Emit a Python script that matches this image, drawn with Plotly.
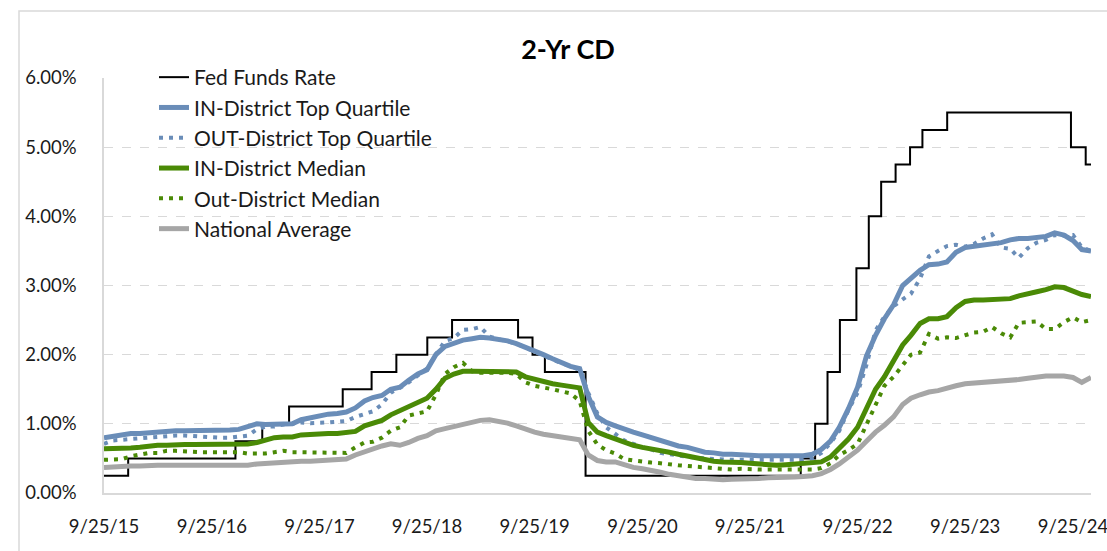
import pandas as pd
import plotly.graph_objects as go

# Monthly sample dates (25th of each month), 9/25/15 .. 11/25/24
dates = pd.date_range("2015-09-01", "2024-11-01", freq="MS") + pd.Timedelta(days=24)

in_top_quartile = [
    0.80, 0.82, 0.85, 0.86, 0.86, 0.87, 0.88, 0.90, 0.90, 0.90,
    0.90, 0.90, 0.90, 0.90, 0.91, 0.92, 0.96, 1.00, 0.99, 0.99,
    0.99, 1.00, 1.06, 1.09, 1.12, 1.14, 1.15, 1.17, 1.23, 1.33,
    1.38, 1.41, 1.50, 1.53, 1.63, 1.72, 1.78, 2.00, 2.12, 2.17,
    2.21, 2.23, 2.25, 2.24, 2.22, 2.20, 2.16, 2.11, 2.05, 2.00,
    1.94, 1.89, 1.83, 1.80, 1.40, 1.10, 1.02, 0.97, 0.92, 0.88,
    0.84, 0.80, 0.76, 0.72, 0.68, 0.66, 0.62, 0.59, 0.58, 0.56,
    0.56, 0.55, 0.55, 0.54, 0.54, 0.54, 0.54, 0.54, 0.54, 0.56,
    0.63, 0.75, 0.95, 1.22, 1.53, 1.98, 2.28, 2.52, 2.72, 3.00,
    3.10, 3.22, 3.30, 3.31, 3.34, 3.48, 3.55, 3.57, 3.59, 3.60,
    3.62, 3.66, 3.68, 3.68, 3.69, 3.71, 3.76, 3.73, 3.65, 3.52,
    3.50,
]
out_top_quartile = [
    0.71, 0.76, 0.77, 0.78, 0.79, 0.81, 0.82, 0.83, 0.83, 0.83,
    0.82, 0.81, 0.80, 0.80, 0.80, 0.82, 0.83, 0.92, 0.96, 0.96,
    0.99, 1.00, 1.02, 1.01, 1.01, 1.02, 1.03, 1.04, 1.10, 1.14,
    1.18, 1.28, 1.45, 1.52, 1.60, 1.70, 1.80, 2.00, 2.20, 2.24,
    2.36, 2.37, 2.40, 2.26, 2.22, 2.19, 2.16, 2.10, 2.04, 1.99,
    1.93, 1.88, 1.83, 1.78, 1.45, 1.15, 0.95, 0.85, 0.76, 0.71,
    0.66, 0.63, 0.58, 0.56, 0.54, 0.52, 0.51, 0.50, 0.49, 0.49,
    0.48, 0.48, 0.48, 0.47, 0.47, 0.47, 0.47, 0.47, 0.48, 0.50,
    0.58, 0.72, 0.90, 1.20, 1.45, 1.85, 2.35, 2.55, 2.70, 2.80,
    2.88, 3.10, 3.42, 3.50, 3.57, 3.59, 3.56, 3.60, 3.68, 3.74,
    3.55, 3.53, 3.40, 3.54, 3.62, 3.66, 3.73, 3.72, 3.73, 3.55,
    3.50,
]
in_median = [
    0.64, 0.64, 0.64, 0.65, 0.66, 0.68, 0.69, 0.69, 0.70, 0.70,
    0.70, 0.70, 0.70, 0.70, 0.70, 0.71, 0.71, 0.73, 0.76, 0.80,
    0.81, 0.81, 0.84, 0.85, 0.86, 0.86, 0.86, 0.88, 0.89, 0.97,
    1.00, 1.05, 1.13, 1.19, 1.25, 1.31, 1.37, 1.50, 1.66, 1.72,
    1.76, 1.76, 1.76, 1.76, 1.76, 1.76, 1.75, 1.68, 1.64, 1.61,
    1.58, 1.56, 1.54, 1.52, 1.02, 0.88, 0.83, 0.78, 0.73, 0.69,
    0.66, 0.64, 0.61, 0.59, 0.56, 0.53, 0.51, 0.49, 0.46, 0.45,
    0.45, 0.44, 0.43, 0.42, 0.41, 0.40, 0.41, 0.42, 0.42, 0.43,
    0.45, 0.52, 0.64, 0.78, 0.95, 1.21, 1.50, 1.68, 1.90, 2.14,
    2.28, 2.45, 2.52, 2.52, 2.55, 2.68, 2.77, 2.79, 2.79, 2.80,
    2.80, 2.81, 2.85, 2.89, 2.91, 2.94, 2.98, 2.97, 2.92, 2.87,
    2.84,
]
out_median = [
    0.48, 0.48, 0.49, 0.53, 0.56, 0.58, 0.58, 0.61, 0.61, 0.60,
    0.60, 0.59, 0.59, 0.59, 0.59, 0.59, 0.57, 0.57, 0.57, 0.59,
    0.61, 0.59, 0.59, 0.59, 0.59, 0.59, 0.59, 0.58, 0.66, 0.73,
    0.74, 0.80, 0.90, 0.95, 1.12, 1.15, 1.18, 1.42, 1.72, 1.82,
    1.88, 1.76, 1.74, 1.74, 1.74, 1.74, 1.72, 1.60, 1.55, 1.53,
    1.50, 1.47, 1.44, 1.33, 0.90, 0.70, 0.62, 0.57, 0.49, 0.47,
    0.45, 0.44, 0.43, 0.41, 0.40, 0.39, 0.38, 0.37, 0.37, 0.36,
    0.34, 0.35, 0.34, 0.34, 0.34, 0.34, 0.34, 0.35, 0.35, 0.34,
    0.36, 0.43, 0.55, 0.62, 0.71, 0.98, 1.25, 1.55, 1.68, 1.85,
    2.00, 2.03, 2.30, 2.23, 2.25, 2.24, 2.28, 2.32, 2.33, 2.40,
    2.31, 2.25, 2.46, 2.47, 2.48, 2.37, 2.37, 2.47, 2.54, 2.47,
    2.50,
]
national_average = [
    0.37, 0.38, 0.38, 0.39, 0.39, 0.40, 0.40, 0.40, 0.40, 0.40,
    0.40, 0.40, 0.40, 0.39, 0.39, 0.39, 0.40, 0.42, 0.43, 0.44,
    0.45, 0.45, 0.46, 0.46, 0.47, 0.47, 0.48, 0.49, 0.55, 0.60,
    0.64, 0.68, 0.71, 0.69, 0.73, 0.79, 0.83, 0.90, 0.93, 0.96,
    0.99, 1.02, 1.05, 1.06, 1.04, 1.01, 0.97, 0.92, 0.88, 0.85,
    0.83, 0.80, 0.79, 0.77, 0.55, 0.47, 0.45, 0.45, 0.41, 0.37,
    0.35, 0.33, 0.30, 0.27, 0.25, 0.23, 0.21, 0.21, 0.20, 0.19,
    0.20, 0.20, 0.20, 0.21, 0.22, 0.22, 0.23, 0.23, 0.24, 0.25,
    0.28, 0.34, 0.42, 0.51, 0.62, 0.75, 0.88, 0.98, 1.10, 1.28,
    1.37, 1.42, 1.46, 1.48, 1.52, 1.55, 1.58, 1.59, 1.59, 1.60,
    1.62, 1.63, 1.64, 1.66, 1.68, 1.69, 1.69, 1.69, 1.67, 1.60,
    1.67,
]

# Fed Funds Rate (upper bound) change dates
fed_dates = [
    "2015-09-25", "2015-12-16", "2016-12-14", "2017-03-15", "2017-06-14",
    "2017-12-13", "2018-03-21", "2018-06-13", "2018-09-26", "2018-12-19",
    "2019-07-31", "2019-09-18", "2019-10-30", "2020-03-16", "2022-03-16",
    "2022-05-04", "2022-06-15", "2022-07-27", "2022-09-21", "2022-11-02",
    "2022-12-14", "2023-02-01", "2023-03-22", "2023-05-03", "2023-07-26",
    "2024-09-18", "2024-11-07", "2024-11-25",
]
fed_rate = [
    0.25, 0.50, 0.75, 1.00, 1.25,
    1.50, 1.75, 2.00, 2.25, 2.50,
    2.25, 2.00, 1.75, 0.25, 0.50,
    1.00, 1.75, 2.50, 3.25, 4.00,
    4.50, 4.75, 5.00, 5.25, 5.50,
    5.00, 4.75, 4.75,
]

tick_dates = ["2015-09-25", "2016-09-25", "2017-09-25", "2018-09-25", "2019-09-25",
              "2020-09-25", "2021-09-25", "2022-09-25", "2023-09-25", "2024-09-25"]
tick_labels = ["9/25/15", "9/25/16", "9/25/17", "9/25/18", "9/25/19",
               "9/25/20", "9/25/21", "9/25/22", "9/25/23", "9/25/24"]
y_ticks = [0, 1, 2, 3, 4, 5, 6]
y_tick_labels = ["0.00%", "1.00%", "2.00%", "3.00%", "4.00%", "5.00%", "6.00%"]

BLUE = "#6A8DB8"
GREEN = "#4A8A06"
GRAY = "#A6A6A6"
FONT = "Lato"

fig = go.Figure()
fig.add_trace(go.Scatter(x=fed_dates, y=fed_rate, name="Fed Funds Rate", mode="lines",
                         line=dict(color="black", width=2, shape="hv"), legendgroup="a"))
fig.add_trace(go.Scatter(x=dates, y=in_top_quartile, name="IN-District Top Quartile", mode="lines",
                         line=dict(color=BLUE, width=5), legendgroup="b"))
fig.add_trace(go.Scatter(x=dates, y=out_top_quartile, name="OUT-District Top Quartile", mode="lines",
                         line=dict(color=BLUE, width=4, dash="4px,6px"), legendgroup="c"))
fig.add_trace(go.Scatter(x=dates, y=in_median, name="IN-District Median", mode="lines",
                         line=dict(color=GREEN, width=5), legendgroup="d"))
fig.add_trace(go.Scatter(x=dates, y=out_median, name="Out-District Median", mode="lines",
                         line=dict(color=GREEN, width=4, dash="4px,6px"), legendgroup="e"))
fig.add_trace(go.Scatter(x=dates, y=national_average, name="National Average", mode="lines",
                         line=dict(color=GRAY, width=5), legendgroup="f"))

L, R, T, B = 104, 16, 78, 58
W, H = 1107, 551
pw, ph = W - L - R, H - T - B

def px_x(p):
    return (p - L) / pw

def px_y(p):
    return (H - B - p) / ph

fig.update_layout(
    width=W, height=H,
    margin=dict(l=L, r=R, t=T, b=B, autoexpand=False),
    paper_bgcolor="white", plot_bgcolor="white",
    font=dict(family=FONT, size=18, color="#1a1a1a"),
    title=dict(text="<b>2-Yr CD</b>", x=568 / W, xanchor="center",
               y=1 - 50 / H, yanchor="middle", font=dict(size=27, color="black")),
    showlegend=True,
    legend=dict(x=px_x(154), y=px_y(57), xanchor="left", yanchor="top",
                bgcolor="rgba(0,0,0,0)", font=dict(size=21), tracegroupgap=7,
                traceorder="normal"),
    xaxis=dict(type="date", range=["2015-09-25", "2024-11-25"], tickvals=tick_dates,
               ticktext=tick_labels, showgrid=False, showline=True, linecolor="#D9D9D9",
               linewidth=1.5, ticks="", ticklabelstandoff=16, zeroline=False,
               ticklabeloverflow="allow", tickfont=dict(size=18.5)),
    yaxis=dict(range=[0, 6], tickvals=y_ticks, ticktext=y_tick_labels,
               showgrid=True, gridcolor="#D9D9D9", griddash="dash", gridwidth=1,
               showline=True, linecolor="#D9D9D9", linewidth=1.5, ticks="",
               ticklabelstandoff=22, zeroline=False, tickfont=dict(size=18.5)),
    shapes=[dict(type="rect", xref="paper", yref="paper",
                 x0=px_x(19), x1=px_x(1130), y0=px_y(570), y1=px_y(11),
                 line=dict(color="#D9D9D9", width=1.5), fillcolor="rgba(0,0,0,0)",
                 layer="below")],
)

fig.write_html("out.html", config={"displayModeBar": False},
               post_script="document.body.style.margin='0';document.body.style.overflow='hidden';")
